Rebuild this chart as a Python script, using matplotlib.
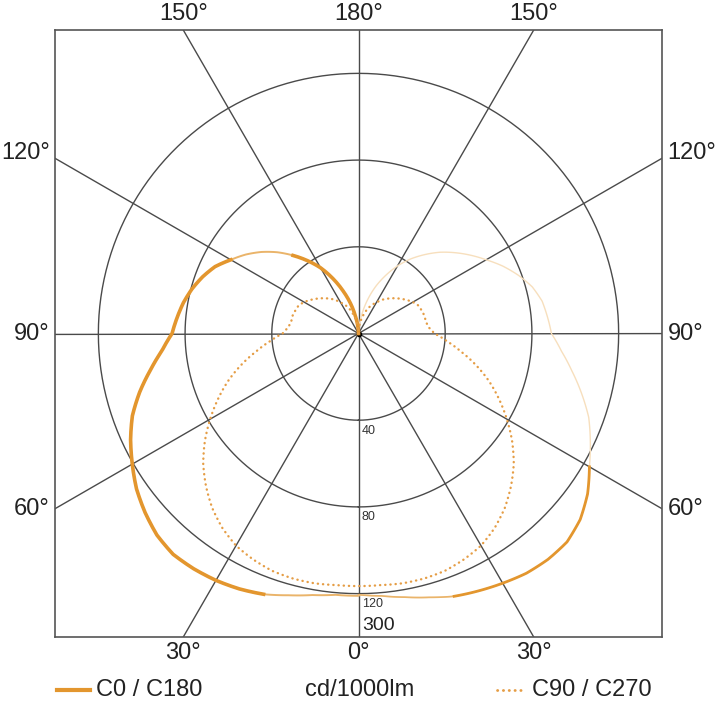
import matplotlib
matplotlib.use('Agg')
import matplotlib.pyplot as plt
import numpy as np
import numpy.ma as ma
from matplotlib.lines import Line2D

plt.rcParams['font.family'] = ['Liberation Sans', 'DejaVu Sans']

# gamma angle (deg, 0 = nadir) and intensities in cd/1000lm
gamma = np.arange(0, 181, 5)
c0 = [121, 121, 122.5, 125, 128, 130, 131.5, 132.5, 133, 131.5, 128.5, 125, 120.5,
      116, 111, 104.5, 97.5, 91, 86, 84, 82, 79.5, 76.5, 73, 68, 63.5, 58.5, 53,
      47, 41, 35, 28, 21, 14.5, 8, 3, 0]
c180 = [120.5, 121.5, 123.5, 126, 129, 131, 133, 135, 136, 136, 133.5, 129, 123,
        118, 113, 106.5, 100, 94, 89, 87.5, 86, 83, 78.5, 73.5, 68, 63, 58, 53,
        47.5, 42, 36, 29.5, 23, 16, 9, 3.5, 0]
c90 = [116.5, 116.5, 117, 117, 116.5, 115, 113, 109.5, 105, 99.5, 93.5, 86.5, 79,
       71.5, 64, 56, 48, 41, 35, 32.5, 31.5, 31.5, 31, 30.5, 29, 27, 25, 23, 21,
       19, 16.5, 14.5, 12, 9, 6, 3, 0]
rings = [40, 80, 120]
spokes = np.arange(0, 180, 30)
top_labels = ['150°', '180°', '150°']
side_labels = ['120°', '90°', '60°']
bottom_labels = ['30°', '0°', '30°']
rmax = 140

orange = '#e3962e'
mid = '#eab46a'
faint = '#f7dfbd'
grid = '#4a4a4a'
txt = '#222222'

g = np.radians(gamma)
c0 = np.array(c0)
c180 = np.array(c180)
c90 = np.array(c90)

fig = plt.figure(figsize=(7.2, 7.08), dpi=100)
rect = [55 / 720, 1 - 637 / 708, 607 / 720, 607 / 708]

# square frame with spokes
ax = fig.add_axes(rect)
ax.set_xlim(-rmax, rmax)
ax.set_ylim(-rmax, rmax)
ax.set_aspect('equal')
ax.set_xticks([])
ax.set_yticks([])
for s in ax.spines.values():
    s.set_color('#555555')
    s.set_linewidth(1.2)
for a in np.radians(spokes):
    L = 300
    ax.plot([-L * np.sin(a), L * np.sin(a)], [-L * np.cos(a), L * np.cos(a)],
            color=grid, lw=1.0, zorder=1)
ax.plot(0, 0, 'o', color='black', ms=3, zorder=5)

# polar axes for rings and curves
pax = fig.add_axes(rect, projection='polar')
pax.patch.set_alpha(0)
pax.set_theta_zero_location('S')
pax.set_ylim(0, rmax)
pax.set_xticks([])
pax.set_yticks([])
pax.grid(False)
pax.spines['polar'].set_visible(False)
t = np.linspace(0, 2 * np.pi, 361)
for r in rings:
    pax.plot(t, np.full_like(t, r), color=grid, lw=1.0, zorder=1)

curves = []
# left = C0 (theta negative), right = C180
curves += pax.plot(-g, c0, color=mid, lw=1.4, zorder=3)
curves += pax.plot(g, c180, color=faint, lw=1.0, zorder=3)
thick_l = ~(((gamma >= 20) & (gamma <= 120)) | (gamma >= 140))
thick_r = ~((gamma >= 20) & (gamma <= 62))
curves += pax.plot(-g, ma.array(c0, mask=thick_l), color=orange, lw=2.6, zorder=4)
curves += pax.plot(g, ma.array(c180, mask=thick_r), color=orange, lw=2.0, zorder=4)
curves += pax.plot(g[:5], c180[:5], color=mid, lw=1.2, zorder=3)

# C90 / C270 symmetric
curves += pax.plot(np.concatenate([-g[::-1], g]), np.concatenate([c90[::-1], c90]),
                   color='#e59d45', lw=1.7, ls=(0, (0.1, 2.1)),
                   dash_capstyle='round', zorder=4)
for ln in curves:
    ln.get_path()._interpolation_steps = 12

# ring labels
for r in rings:
    ax.text(1.5, -r - 2, str(r), fontsize=9, ha='left', va='top', color='#333333')
ax.text(1.5, -rmax + 1.5, '300', fontsize=14, ha='left', va='bottom', color=txt)

# angle labels
tx = rmax * np.tan(np.radians(30))
for x, lab in zip([-tx, 0, tx], top_labels):
    ax.text(x, rmax + 2.5, lab, fontsize=17, ha='center', va='bottom', color=txt)
for x, lab in zip([-tx, 0, tx], bottom_labels):
    ax.text(x, -rmax - 2.5, lab, fontsize=17, ha='center', va='top', color=txt)
for y, lab in zip([tx, 0, -tx], side_labels):
    ax.text(-rmax - 2.5, y + 2.5 * (y > 0), lab, fontsize=17, ha='right', va='center',
            color=txt, clip_on=False)
    ax.text(rmax + 2.5, y + 2.5 * (y > 0), lab, fontsize=17, ha='left', va='center',
            color=txt, clip_on=False)

# legend row
ly = 1 - 690 / 708
fig.add_artist(Line2D([57 / 720, 90 / 720], [ly, ly], color=orange, lw=3))
fig.text(96 / 720, ly, 'C0 / C180', fontsize=17, va='center', ha='left', color=txt)
fig.text(360 / 720, ly, 'cd/1000lm', fontsize=17, va='center', ha='center', color=txt)
fig.add_artist(Line2D([497 / 720, 526 / 720], [ly, ly], color='#e59d45', lw=2,
                      ls=(0, (0.1, 2.0)), dash_capstyle='round'))
fig.text(532 / 720, ly, 'C90 / C270', fontsize=17, va='center', ha='left', color=txt)

fig.savefig('out.png', dpi=100)
